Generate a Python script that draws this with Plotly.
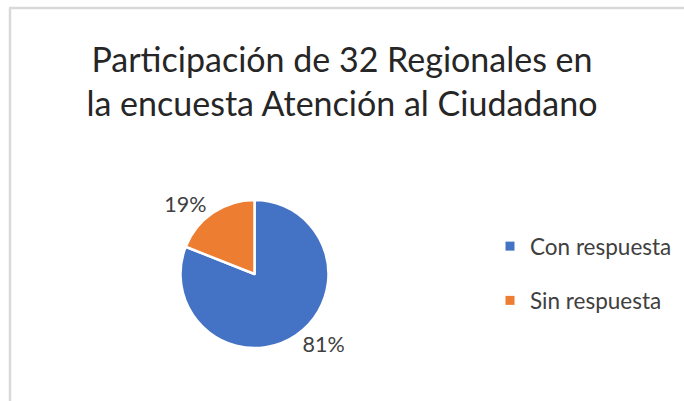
import plotly.graph_objects as go

W, H = 684, 401

title_lines = ["Participación de 32 Regionales en", "la encuesta Atención al Ciudadano"]
categories = ["Con respuesta", "Sin respuesta"]
values = [81, 19]
colors = ["#4472C4", "#ED7D31"]

FONT = "Lato"
TEXT = "#262626"

fig = go.Figure()

fig.add_trace(go.Pie(
    labels=categories,
    values=values,
    sort=False,
    direction="clockwise",
    rotation=0,
    marker=dict(colors=colors, line=dict(color="white", width=2.5)),
    textposition="outside",
    texttemplate="%{percent:.0%}",
    textfont=dict(family=FONT, size=21.5, color="#404040"),
    showlegend=False,
    hoverinfo="label+percent",
    domain=dict(x=[(254.5 - 74) / W, (254.5 + 74) / W],
                y=[1 - (274 + 74) / H, 1 - (274 - 74) / H]),
))

# legend entries (square markers, spaced like the original)
for i, (name, col) in enumerate(zip(categories, colors)):
    fig.add_trace(go.Scatter(
        x=[None], y=[None], mode="markers", name=name,
        marker=dict(symbol="square", size=9, color=col),
        legendgroup=f"g{i}", showlegend=True, hoverinfo="skip",
    ))

# chart-area border (light grey, top and left visible)
fig.add_shape(type="line", xref="paper", yref="paper",
              x0=9 / W, x1=1, y0=1 - 8 / H, y1=1 - 8 / H,
              line=dict(color="#d9d9d9", width=2.5))
fig.add_shape(type="line", xref="paper", yref="paper",
              x0=10 / W, x1=10 / W, y0=0, y1=1 - 8 / H,
              line=dict(color="#d9d9d9", width=2.5))

fig.update_layout(
    width=W, height=H,
    margin=dict(l=0, r=0, t=0, b=0),
    paper_bgcolor="white", plot_bgcolor="white",
    title=dict(text="<br>".join(title_lines), x=0.5, xanchor="center",
               y=1 - 72 / H, yanchor="top", yref="paper",
               font=dict(family=FONT, size=34, color=TEXT)),
    xaxis=dict(visible=False), yaxis=dict(visible=False),
    legend=dict(x=490 / W, xanchor="left", y=1 - 225 / H, yanchor="top",
                font=dict(family=FONT, size=22.5, color="#404040"),
                tracegroupgap=22, itemwidth=30, bgcolor="rgba(0,0,0,0)"),
)

fig.write_html("out.html", config={"displayModeBar": False},
               post_script="document.body.style.margin='0';")
